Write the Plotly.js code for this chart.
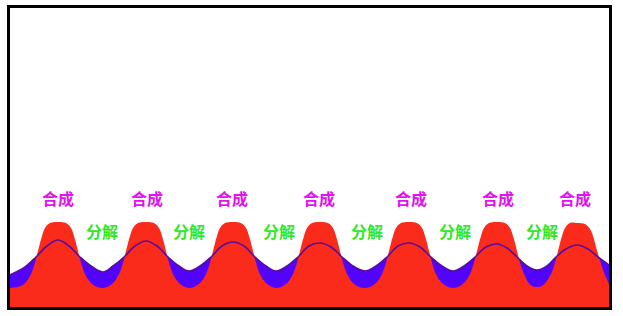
<!DOCTYPE html>
<html>
<head>
<meta charset="utf-8">
<script src="https://cdn.plot.ly/plotly-3.0.1.min.js"></script>
<style>html,body{margin:0;padding:0;background:#fff;}#chart{width:623px;height:316px;}</style>
</head>
<body>
<div id="chart"></div>
<script>
// Red wave (height above baseline)
const redX = [10,21,26,30,33,36,39,42,45,50,58,66,71,74,77,80,83,86,90,95,103,
  109,114,118,121,124,127,130,133,138,146,154,159,162,165,168,171,174,178,183,189,
  196,201,205,208,211,214,217,220,225,233,241,246,249,252,255,258,261,265,270,276,
  283,288,292,295,298,301,304,307,312,320,328,333,336,339,342,345,348,352,357,365,
  372,377,381,384,387,390,393,396,401,409,417,422,425,428,431,434,437,441,446,453,
  460,465,469,472,475,478,481,484,489,497,505,510,513,516,519,522,525,528,532,537,
  542,546,550,553,556,559,562,565,570,577,585,590,593,596,599,602,605,609];
const redY = [19,21,25,31,38,48,60,71,79,84,85,84,79,71,60,48,38,31,25,21,19,
  21,25,31,38,48,60,71,79,84,85,84,79,71,60,48,38,31,25,21,19,
  21,25,31,38,48,60,71,79,84,85,84,79,71,60,48,38,31,25,21,19,
  21,25,31,38,48,60,71,79,84,85,84,79,71,60,48,38,31,25,21,19,
  21,25,31,38,48,60,71,79,84,85,84,79,71,60,48,38,31,25,21,19,
  21,25,31,38,48,60,71,79,84,85,84,79,71,60,48,38,31,25,21,20,
  21,25,31,38,48,60,71,79,84,84,83,78,71,60,50,40,32,23];
// Blue wave
const blueX = [10,25,36,47,58,69,80,91,103,
  113,124,135,146,157,168,179,189,
  200,211,222,233,244,255,266,276,
  287,298,309,320,331,342,353,365,
  376,387,398,409,420,431,442,453,
  464,475,486,497,507,517,527,537,
  547,556,566,577,588,598,609];
const blueY = [32,40,50,61,67,61,50,41,35,
  41,50,61,66,61,50,41,36,
  41,50,61,65,61,50,41,36,
  41,50,61,64,60,50,41,36,
  41,50,61,64,60,50,41,36,
  41,50,60,63,59,50,41,37,
  41,50,58,62,58,50,42];
// Labels
const synthLabel = "合成";
const synthX = [58,147,232,319,411,498,575];
const synthY = 109;
const decompLabel = "分解";
const decompX = [102,189,279,367,455,542];
const decompY = 76;

const traces = [
  {x: blueX, y: blueY, type:'scatter', mode:'lines', fill:'tozeroy',
   fillcolor:'#5203fb', line:{width:0, shape:'spline', color:'#5203fb'}, hoverinfo:'skip'},
  {x: redX, y: redY, type:'scatter', mode:'lines', fill:'tozeroy',
   fillcolor:'#fb2b1c', line:{width:0, shape:'spline', color:'#fb2b1c'}, hoverinfo:'skip'},
  {x: blueX, y: blueY, type:'scatter', mode:'lines',
   line:{width:1.6, shape:'spline', color:'#5a0c9c'}, hoverinfo:'skip'}
];

const font = {family:'"Noto Sans CJK SC", "Noto Sans", sans-serif', size:16};
const annotations = [];
synthX.forEach(x => annotations.push({x:x, y:synthY, xref:'x', yref:'y', text:'<b>'+synthLabel+'</b>',
  showarrow:false, font:Object.assign({}, font, {color:'#e012ee'})}));
decompX.forEach(x => annotations.push({x:x, y:decompY, xref:'x', yref:'y', text:'<b>'+decompLabel+'</b>',
  showarrow:false, font:Object.assign({}, font, {color:'#2ee82a'})}));

const layout = {
  width:623, height:316,
  margin:{l:10, r:14, t:8, b:9, pad:0},
  paper_bgcolor:'#ffffff', plot_bgcolor:'#ffffff',
  showlegend:false,
  xaxis:{range:[10,609], visible:false, fixedrange:true},
  yaxis:{range:[0,299], visible:false, fixedrange:true},
  annotations: annotations,
  shapes:[{type:'rect', xref:'paper', yref:'paper',
    x0:-1.5/599, x1:1+1.5/599, y0:-1.5/299, y1:1+1.5/299,
    line:{color:'#000000', width:3}, fillcolor:'rgba(0,0,0,0)', layer:'above'}]
};
Plotly.newPlot('chart', traces, layout, {displayModeBar:false, staticPlot:true});
</script>
</body>
</html>
